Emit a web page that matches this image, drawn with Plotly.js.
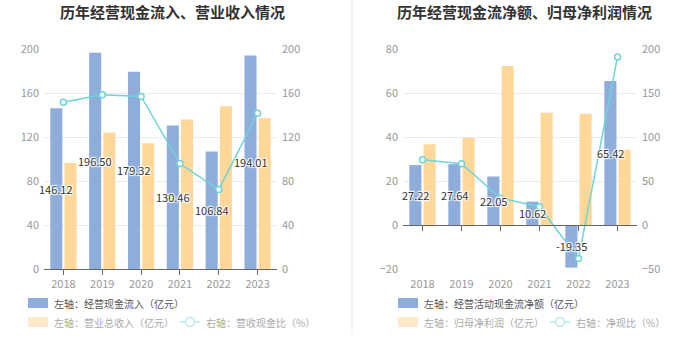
<!DOCTYPE html>
<html>
<head>
<meta charset="utf-8">
<script src="https://cdn.plot.ly/plotly-3.0.1.min.js"></script>
<style>html,body{margin:0;padding:0;background:#fff;}#chart{width:700px;height:360px;}</style>
</head>
<body>
<div id="chart"></div>
<script>
// ---------- data ----------
var years = ["2018", "2019", "2020", "2021", "2022", "2023"];
// left chart
var cashInflow = [146.12, 196.50, 179.32, 130.46, 106.84, 194.01];   // 经营现金流入（亿元）
var revenue = [96.4, 124.0, 114.3, 136.0, 148.0, 137.0];             // 营业总收入（亿元）
var revCashRatio = [151.6, 158.5, 156.9, 95.9, 72.2, 141.6];         // 营收现金比（%）
// right chart
var netCFO = [27.22, 27.64, 22.05, 10.62, -19.35, 65.42];            // 经营活动现金流净额（亿元）
var netProfit = [36.7, 39.7, 72.3, 51.0, 50.6, 34.2];                // 归母净利润（亿元）
var netCashRatio = [74.2, 69.6, 30.5, 20.8, -38.2, 191.0];           // 净现比（%）

var leftTicks = [0, 40, 80, 120, 160, 200];
var rightTicksA = [-20, 0, 20, 40, 60, 80];
var rightTicksB = [-50, 0, 50, 100, 150, 200];

// ---------- styles ----------
var idx = years.map(function (d, i) { return i; });
var BLUE = "#8EADDB", ORANGE = "#FFD899", CYAN = "#6FD3D8";
var FONT = "Noto Sans CJK SC, Noto Sans, sans-serif";
var tickFont = {family: FONT, size: 11, color: "#999"};
var GRID = "#E6EBF4";
var H = 360, W = 700;
function px(x) { return x / W; }
function py(y) { return 1 - y / H; }

var yDom = [py(269), py(49)];
var traces = [
  {type: "bar", x: idx, y: cashInflow, xaxis: "x", yaxis: "y", marker: {color: BLUE}, name: "左轴：经营现金流入（亿元）"},
  {type: "bar", x: idx, y: revenue, xaxis: "x", yaxis: "y", marker: {color: ORANGE}, name: "左轴：营业总收入（亿元）"},
  {type: "scatter", mode: "lines+markers", x: idx, y: revCashRatio, xaxis: "x", yaxis: "y2",
   line: {color: CYAN, width: 1.5}, marker: {size: 6, color: "#fff", line: {color: CYAN, width: 1.5}}, name: "右轴：营收现金比（%）"},
  {type: "bar", x: idx, y: netCFO, xaxis: "x2", yaxis: "y3", marker: {color: BLUE}, name: "左轴：经营活动现金流净额（亿元）"},
  {type: "bar", x: idx, y: netProfit, xaxis: "x2", yaxis: "y3", marker: {color: ORANGE}, name: "左轴：归母净利润（亿元）"},
  {type: "scatter", mode: "lines+markers", x: idx, y: netCashRatio, xaxis: "x2", yaxis: "y4",
   line: {color: CYAN, width: 1.5}, marker: {size: 6, color: "#fff", line: {color: CYAN, width: 1.5}}, name: "右轴：净现比（%）"}
];

var shadow = "1px 1px 1px #fff, -1px -1px 1px #fff, 1px -1px 1px #fff, -1px 1px 1px #fff, 0 0 2px #fff";
var annotations = [
  {text: "<b>历年经营现金流入、营业收入情况</b>", x: px(172), y: py(12), xref: "paper", yref: "paper", showarrow: false,
   xanchor: "center", yanchor: "middle", font: {family: FONT, size: 15, color: "#333"}},
  {text: "<b>历年经营现金流净额、归母净利润情况</b>", x: px(524), y: py(12), xref: "paper", yref: "paper", showarrow: false,
   xanchor: "center", yanchor: "middle", font: {family: FONT, size: 15, color: "#333"}}
];
idx.forEach(function (i) {
  annotations.push({text: cashInflow[i].toFixed(2), x: i, y: cashInflow[i] / 2, xref: "x", yref: "y", showarrow: false,
    xshift: -7, font: {family: FONT, size: 11, color: "#333", shadow: shadow}});
  annotations.push({text: netCFO[i].toFixed(2), x: i, y: netCFO[i] / 2, xref: "x2", yref: "y3", showarrow: false,
    xshift: -7, font: {family: FONT, size: 11, color: "#333", shadow: shadow}});
});

// manual legends
function legText(t, x, y, c) {
  return {text: t, x: px(x), y: py(y), xref: "paper", yref: "paper", showarrow: false, xanchor: "left", yanchor: "middle",
    font: {family: FONT, size: 10, color: c}};
}
annotations.push(legText("左轴：经营现金流入（亿元）", 52, 303, "#555"));
annotations.push(legText("左轴：营业总收入（亿元）", 52, 322, "#aaa"));
annotations.push(legText("右轴：营收现金比（%）", 204, 322, "#aaa"));
annotations.push(legText("左轴：经营活动现金流净额（亿元）", 422, 303, "#555"));
annotations.push(legText("左轴：归母净利润（亿元）", 422, 322, "#aaa"));
annotations.push(legText("右轴：净现比（%）", 574, 322, "#aaa"));

function rect(x0, x1, y0, y1, fill) {
  return {type: "rect", xref: "paper", yref: "paper", x0: px(x0), x1: px(x1), y0: py(y1), y1: py(y0), fillcolor: fill, line: {width: 0}, layer: "above"};
}
var LCYAN = "#BDE9EC";
function lineIcon(cx, cy) {
  return [
    {type: "line", xref: "paper", yref: "paper", x0: px(cx - 10), x1: px(cx + 10), y0: py(cy), y1: py(cy), line: {color: LCYAN, width: 1.5}},
    {type: "circle", xref: "paper", yref: "paper", x0: px(cx - 4.5), x1: px(cx + 4.5), y0: py(cy + 4.5), y1: py(cy - 4.5), fillcolor: "#fff", line: {color: LCYAN, width: 1.5}}
  ];
}
var shapes = [
  {type: "line", xref: "paper", yref: "paper", x0: px(352), x1: px(352), y0: py(0), y1: py(335), line: {color: "#F2F2F2", width: 2}},
  rect(28, 48, 298, 308, BLUE),
  rect(28, 48, 317, 327, "#FFE9C9"),
  rect(398, 418, 298, 308, BLUE),
  rect(398, 418, 317, 327, "#FFE9C9")
].concat(lineIcon(190, 322)).concat(lineIcon(560, 322));

var xCommon = {range: [-0.5, 5.5], tickvals: idx, ticktext: years, showline: true, linecolor: "#666", linewidth: 1,
  ticks: "outside", ticklen: 5, tickcolor: "#666", tickfont: tickFont, showgrid: false, zeroline: false};
var layout = {
  width: W, height: H,
  margin: {l: 0, r: 0, t: 0, b: 0},
  paper_bgcolor: "#fff", plot_bgcolor: "rgba(0,0,0,0)",
  showlegend: false,
  barmode: "group", bargap: 0.27, bargroupgap: 0.15,
  font: {family: FONT},
  xaxis: Object.assign({domain: [px(44), px(277)], anchor: "y"}, xCommon),
  yaxis: {domain: yDom, anchor: "x", range: [0, 200], tickvals: leftTicks, gridcolor: GRID, zeroline: false,
    showline: false, tickfont: tickFont, ticklabelstandoff: 4},
  yaxis2: {overlaying: "y", anchor: "x", side: "right", range: [0, 200], tickvals: leftTicks, showgrid: false,
    zeroline: false, showline: false, tickfont: tickFont, ticklabelstandoff: 4},
  xaxis2: Object.assign({domain: [px(403), px(637)], anchor: "free", position: yDom[0] + 0.2 * (yDom[1] - yDom[0]),
    ticklabelstandoff: 44}, xCommon),
  yaxis3: {domain: yDom, anchor: "x2", range: [-20, 80], tickvals: rightTicksA, gridcolor: GRID, zeroline: false,
    showline: false, tickfont: tickFont, ticklabelstandoff: 4},
  yaxis4: {overlaying: "y3", anchor: "x2", side: "right", range: [-50, 200], tickvals: rightTicksB, showgrid: false,
    zeroline: false, showline: false, tickfont: tickFont, ticklabelstandoff: 4},
  annotations: annotations,
  shapes: shapes
};
Plotly.newPlot("chart", traces, layout, {displayModeBar: false, staticPlot: true});
</script>
</body>
</html>
